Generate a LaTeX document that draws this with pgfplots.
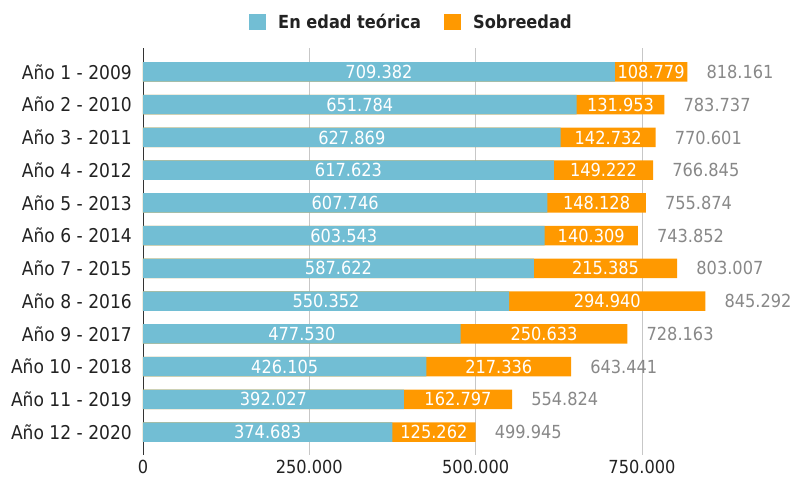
\documentclass[border=0pt]{standalone}
\usepackage{pgfplots}
\usepackage{pgfplotstable}
\pgfplotsset{compat=1.18}
\usepackage{fontspec}
\setmainfont[FakeStretch=0.9]{DejaVu Sans}
\newcommand\fs{\fontsize{18bp}{22bp}\selectfont}
\newcommand\fsy{\fontsize{19bp}{23bp}\selectfont}
\definecolor{blu}{HTML}{72BED4}
\definecolor{orng}{HTML}{FF9900}
\definecolor{totc}{HTML}{888888}
\definecolor{txt}{HTML}{222222}
\pgfplotstableread{
y a b t la lb lt
0 709382 108779 818161 709.382 108.779 818.161
1 651784 131953 783737 651.784 131.953 783.737
2 627869 142732 770601 627.869 142.732 770.601
3 617623 149222 766845 617.623 149.222 766.845
4 607746 148128 755874 607.746 148.128 755.874
5 603543 140309 743852 603.543 140.309 743.852
6 587622 215385 803007 587.622 215.385 803.007
7 550352 294940 845292 550.352 294.940 845.292
8 477530 250633 728163 477.530 250.633 728.163
9 426105 217336 643441 426.105 217.336 643.441
10 392027 162797 554824 392.027 162.797 554.824
11 374683 125262 499945 374.683 125.262 499.945
}\data
\begin{document}
\begin{tikzpicture}
\useasboundingbox (-143bp,-27bp) rectangle (653bp,455bp);
\begin{axis}[
  scale only axis,
  width=578.8bp, height=407bp,
  xmin=0, xmax=870000,
  ymin=-0.733, ymax=11.70,
  y dir=reverse,
  clip=false,
  axis lines*=left,
  x axis line style={draw=none},
  y axis line style={draw=black!80, line width=0.8pt},
  major tick length=0pt,
  xtick={0,250000,500000,750000},
  xticklabels={0,250.000,500.000,750.000},
  ytick={0,...,11},
  yticklabels={Año 1 - 2009,Año 2 - 2010,Año 3 - 2011,Año 4 - 2012,Año 5 - 2013,Año 6 - 2014,Año 7 - 2015,Año 8 - 2016,Año 9 - 2017,Año 10 - 2018,Año 11 - 2019,Año 12 - 2020},
  xmajorgrids,
  grid style={draw=black!22, line width=0.8pt},
  xticklabel style={font=\fs, text=txt, inner sep=0pt, yshift=-5bp, anchor=north},
  yticklabel style={font=\fsy, text=txt, inner sep=0pt, xshift=-11bp, anchor=east},
  legend columns=2,
  legend style={draw=none, fill=none, at={(axis description cs:0.462,1)}, anchor=center, yshift=26bp,
    font=\fs\bfseries, text=txt, inner sep=0pt, nodes={inner sep=0pt},
    /tikz/every odd column/.style={column sep=12bp},
    /tikz/every even column/.style={column sep=23bp}},
  legend image code/.code={\fill[#1] (0bp,-8bp) rectangle (17bp,8bp);},
]
\addplot[xbar, bar width=19.5bp, bar shift=0pt, fill=orng, draw=none, forget plot] table[x=t, y=y]{\data};
\addplot[xbar, bar width=19.5bp, bar shift=0pt, fill=blu, draw=none, forget plot] table[x=a, y=y]{\data};
\addplot[draw=none, mark=none, forget plot, nodes near coords, point meta=explicit symbolic,
  nodes near coords style={anchor=center, font=\fs, text=white, inner sep=0pt}]
  table[x expr=\thisrow{a}/2, y=y, meta=la]{\data};
\addplot[draw=none, mark=none, forget plot, nodes near coords, point meta=explicit symbolic,
  nodes near coords style={anchor=center, font=\fs, text=white, inner sep=0pt}]
  table[x expr=\thisrow{a}+\thisrow{b}/2, y=y, meta=lb]{\data};
\addplot[draw=none, mark=none, forget plot, nodes near coords, point meta=explicit symbolic,
  nodes near coords style={anchor=west, font=\fs, text=totc, inner sep=0pt, xshift=19bp}]
  table[x=t, y=y, meta=lt]{\data};
\addlegendimage{fill=blu, draw=none}
\addlegendentry{En edad teórica}
\addlegendimage{fill=orng, draw=none}
\addlegendentry{Sobreedad}
\end{axis}
\end{tikzpicture}
\end{document}
